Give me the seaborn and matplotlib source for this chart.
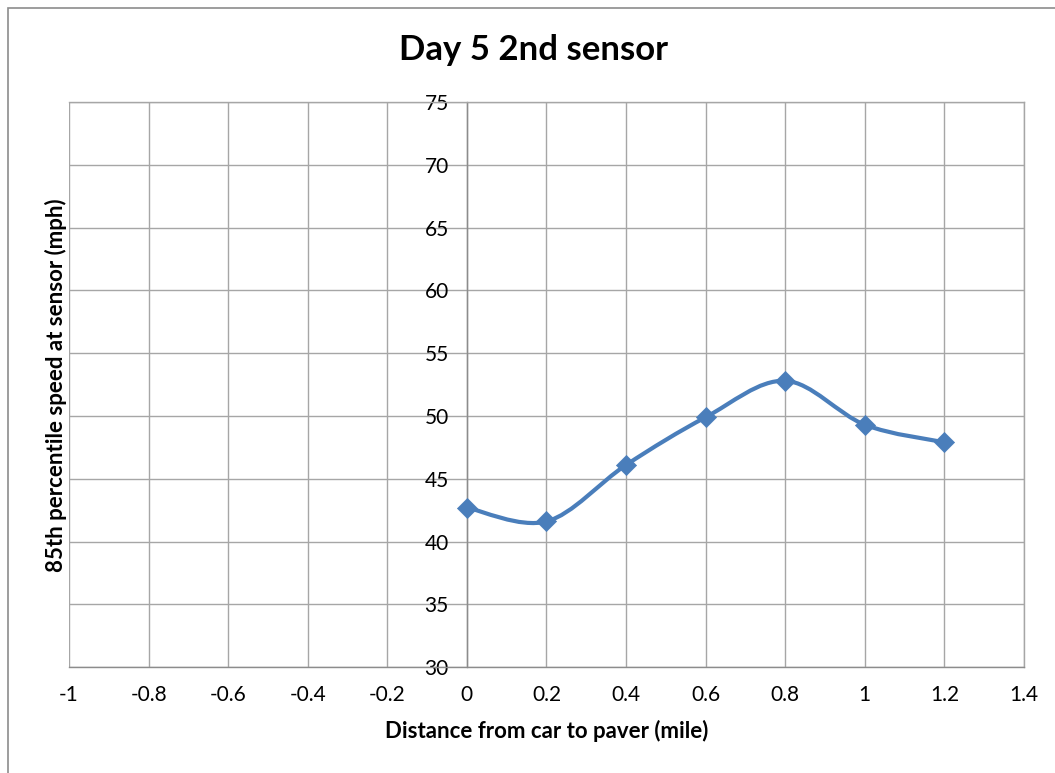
import numpy as np
import pandas as pd
import matplotlib.pyplot as plt
import seaborn as sns
from matplotlib.path import Path
from matplotlib.patches import PathPatch, Rectangle

# values
distance = [0, 0.2, 0.4, 0.6, 0.8, 1.0, 1.2]
speed_85 = [42.7, 41.6, 46.1, 49.9, 52.8, 49.3, 47.9]
x_ticks = [-1, -0.8, -0.6, -0.4, -0.2, 0, 0.2, 0.4, 0.6, 0.8, 1, 1.2, 1.4]
x_tick_labels = ['-1', '-0.8', '-0.6', '-0.4', '-0.2', '0', '0.2', '0.4', '0.6', '0.8', '1', '1.2', '1.4']
y_ticks = [30, 35, 40, 45, 50, 55, 60, 65, 70, 75]

df = pd.DataFrame({'dist': distance, 'speed': speed_85})

sns.set_style('white')
plt.rcParams['font.family'] = ['Lato', 'DejaVu Sans']
plt.rcParams['text.color'] = 'black'

line_col = '#4a7ebb'
grid_col = '#a6a6a6'

fig = plt.figure(figsize=(10.55, 7.73), dpi=100)
ax = fig.add_axes([0.0654, 0.137, 0.9052, 0.731])

# chart border (cropped at right/bottom like the screenshot)
fig.patches.append(Rectangle((8 / 1055, -0.05), 1.2, 1 - 8 / 773 + 0.05,
                             transform=fig.transFigure, fill=False,
                             edgecolor='#8c8c8c', lw=1.2))

# smoothed line, Excel-style bezier through the points
pts = np.column_stack([distance, speed_85])
verts = [tuple(pts[0])]
codes = [Path.MOVETO]
n = len(pts)
for i in range(n - 1):
    p0 = pts[max(i - 1, 0)]
    p1 = pts[i]
    p2 = pts[i + 1]
    p3 = pts[min(i + 2, n - 1)]
    c1 = p1 + (p2 - p0) / 6
    c2 = p2 - (p3 - p1) / 6
    verts += [tuple(c1), tuple(c2), tuple(p2)]
    codes += [Path.CURVE4] * 3
ax.add_patch(PathPatch(Path(verts, codes), fill=False, edgecolor=line_col,
                       lw=3.0, zorder=3, capstyle='round', joinstyle='round'))

sns.scatterplot(data=df, x='dist', y='speed', marker='D', s=105,
                color=line_col, edgecolor=line_col, linewidth=0.5, zorder=4, ax=ax)

ax.set_xlim(-1, 1.4)
ax.set_ylim(30, 75)
ax.set_xticks(x_ticks)
ax.set_xticklabels(x_tick_labels)
ax.set_yticks(y_ticks)

ax.grid(True, color=grid_col, lw=1.0)
ax.set_axisbelow(True)
for s in ['top', 'right']:
    ax.spines[s].set_color(grid_col)
    ax.spines[s].set_linewidth(1.0)
ax.spines['left'].set_position(('data', 0))
ax.spines['left'].set_color('#8c8c8c')
ax.spines['bottom'].set_color('#8c8c8c')
ax.spines['left'].set_linewidth(1.0)
ax.spines['bottom'].set_linewidth(1.0)

ax.tick_params(axis='both', length=0, labelsize=15, colors='#000000')
ax.tick_params(axis='x', pad=13)
ax.tick_params(axis='y', pad=13)

ax.set_xlabel('Distance from car to paver (mile)', fontsize=16, fontweight='bold',
              labelpad=11, color='black')
ax.set_ylabel('')
fig.text(0.053, 0.502, '85th percentile speed at sensor (mph)', rotation=90,
         fontsize=16, fontweight='bold', ha='center', va='center', color='black')
fig.text(0.506, 0.935, 'Day 5 2nd sensor', fontsize=25, fontweight='bold',
         ha='center', va='center', color='black')

fig.savefig('out.png', dpi=100)
